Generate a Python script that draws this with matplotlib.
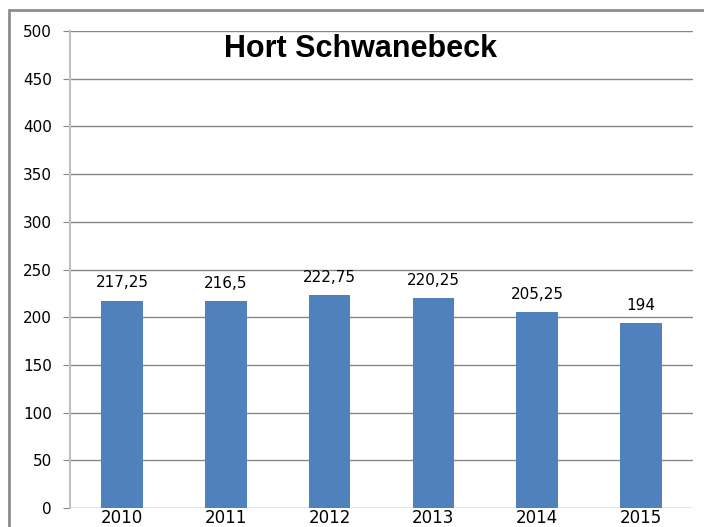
import matplotlib

matplotlib.use("Agg")

import matplotlib.pyplot as plt
from matplotlib.patches import Rectangle

years = ["2010", "2011", "2012", "2013", "2014", "2015"]
values = [217.25, 216.5, 222.75, 220.25, 205.25, 194]
value_labels = ["217,25", "216,5", "222,75", "220,25", "205,25", "194"]
y_ticks = [0, 50, 100, 150, 200, 250, 300, 350, 400, 450, 500]

plt.rcParams["font.family"] = ["DejaVu Sans"]

fig = plt.figure(figsize=(7.04, 5.27), dpi=100)
ax = fig.add_axes([70 / 704, 1 - 508 / 527, 623 / 704, 477 / 527])

# outer chart border (only top and left are visible in the crop)
fig.patches.append(Rectangle((9 / 704, -0.05), 1.2, 1 - 10 / 527 + 0.05,
                             transform=fig.transFigure, fill=False,
                             edgecolor="#8c8c8c", linewidth=2))

x = range(len(years))
ax.bar(x, values, width=0.4, color="#4f81bd", zorder=3)

for xi, v, lab in zip(x, values, value_labels):
    ax.text(xi, v + 14, lab, ha="center", va="baseline", fontsize=11, color="black")

ax.set_xlim(-0.5, 5.5)
ax.set_ylim(0, 500)
ax.set_yticks(y_ticks)
ax.set_yticklabels([str(t) for t in y_ticks], fontsize=11)
ax.set_xticks(list(x))
ax.set_xticklabels(years, fontsize=12)
ax.tick_params(axis="x", length=0, pad=1)
ax.tick_params(axis="y", length=5, color="#868686", pad=8)

ax.grid(axis="y", color="#868686", linewidth=1, zorder=0)
for s in ["top", "right", "bottom"]:
    ax.spines[s].set_visible(False)
ax.spines["left"].set_color("#c0c0c0")
ax.spines["left"].set_linewidth(1.5)

ax.text(0.467, (508 - 57) / 477, "Hort Schwanebeck", transform=ax.transAxes,
        ha="center", va="baseline", fontsize=22, fontweight="bold",
        family="Liberation Sans")

fig.savefig("out.png", dpi=100)
